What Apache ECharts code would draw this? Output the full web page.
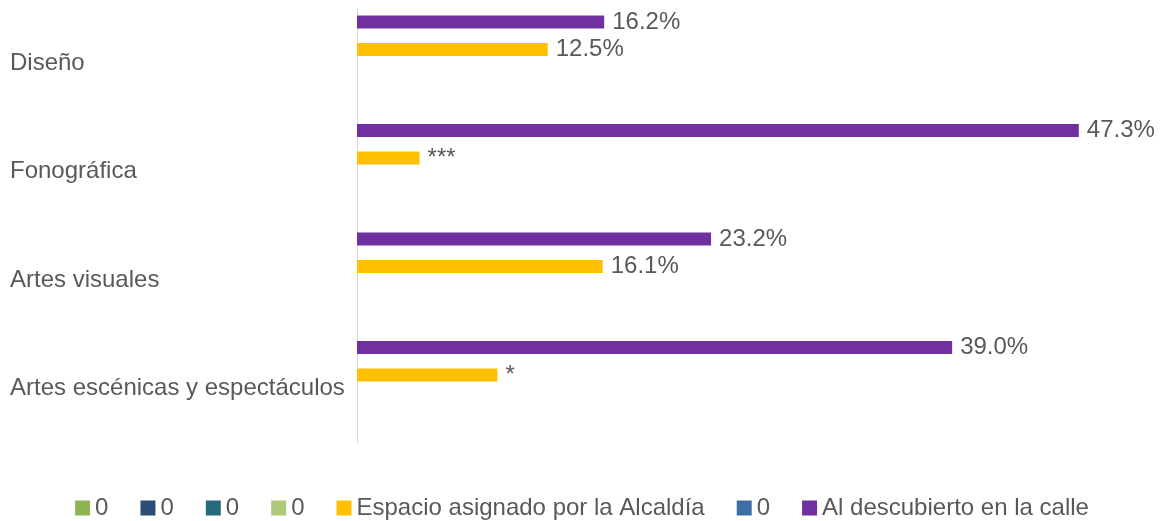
<!DOCTYPE html>
<html>
<head>
<meta charset="utf-8">
<script src="https://cdn.jsdelivr.net/npm/echarts@6/dist/echarts.min.js"></script>
<style>
  html, body { margin: 0; padding: 0; background: #fff; }
  #chart { width: 1164px; height: 521px; }
</style>
</head>
<body>
<div id="chart"></div>
<script>
// categorías (de arriba a abajo)
const categories = ['Diseño', 'Fonográfica', 'Artes visuales', 'Artes escénicas y espectáculos']

// series con datos
const calleValues = [16.2, 47.3, 23.2, 39.0]
const calleLabels = ['16.2%', '47.3%', '23.2%', '39.0%']
const alcaldiaValues = [12.5, 4.1, 16.1, 9.2]
const alcaldiaLabels = ['12.5%', '***', '16.1%', '*']

// series vacías que aparecen en la leyenda como "0"
const emptyNames = ['s1', 's2', 's3', 's4', 's6']

const textColor = '#595959'
const fontFamily = 'Liberation Sans, Arial, sans-serif'

const chart = echarts.init(document.getElementById('chart'))

const barBase = {
  type: 'bar',
  barWidth: 13,
  barGap: '6%'
}

function labelFrom(texts) {
  return {
    show: true,
    position: 'right',
    distance: 8,
    color: textColor,
    fontSize: 24,
    fontFamily: fontFamily,
    formatter: (p) => texts[p.dataIndex]
  }
}

const option = {
  animation: false,
  grid: {
    left: 357,
    right: 44,
    top: 9,
    bottom: 78
  },
  legend: {
    top: 491,
    left: 'center',
    icon: 'rect',
    itemWidth: 15,
    itemHeight: 15,
    itemGap: 32,
    textStyle: { color: textColor, fontSize: 24, fontFamily: fontFamily },
    // orden de la leyenda
    data: ['s1', 's2', 's3', 's4', 'Espacio asignado por la Alcaldía', 's6', 'Al descubierto en la calle'],
    formatter: (name) => emptyNames.includes(name) ? '0' : name
  },
  xAxis: {
    type: 'value',
    min: 0,
    max: 50,
    show: false
  },
  yAxis: {
    type: 'category',
    inverse: true,
    data: categories,
    axisLine: { show: true, lineStyle: { color: '#d9d9d9', width: 1 } },
    axisTick: { show: false },
    splitLine: { show: false },
    axisLabel: {
      align: 'left',
      margin: 347,
      color: textColor,
      fontSize: 24,
      fontFamily: fontFamily
    }
  },
  series: [
    { ...barBase, name: 'Al descubierto en la calle', data: calleValues,
      itemStyle: { color: '#7030A0' }, label: labelFrom(calleLabels) },
    { ...barBase, name: 's6', data: [], itemStyle: { color: '#3E6EA6' } },
    { ...barBase, name: 'Espacio asignado por la Alcaldía', data: alcaldiaValues,
      itemStyle: { color: '#FFC000' }, label: labelFrom(alcaldiaLabels) },
    { ...barBase, name: 's4', data: [], itemStyle: { color: '#AFC97A' } },
    { ...barBase, name: 's3', data: [], itemStyle: { color: '#276A7C' } },
    { ...barBase, name: 's2', data: [], itemStyle: { color: '#2C4D75' } },
    { ...barBase, name: 's1', data: [], itemStyle: { color: '#8FB350' } }
  ]
}

chart.setOption(option)
</script>
</body>
</html>
